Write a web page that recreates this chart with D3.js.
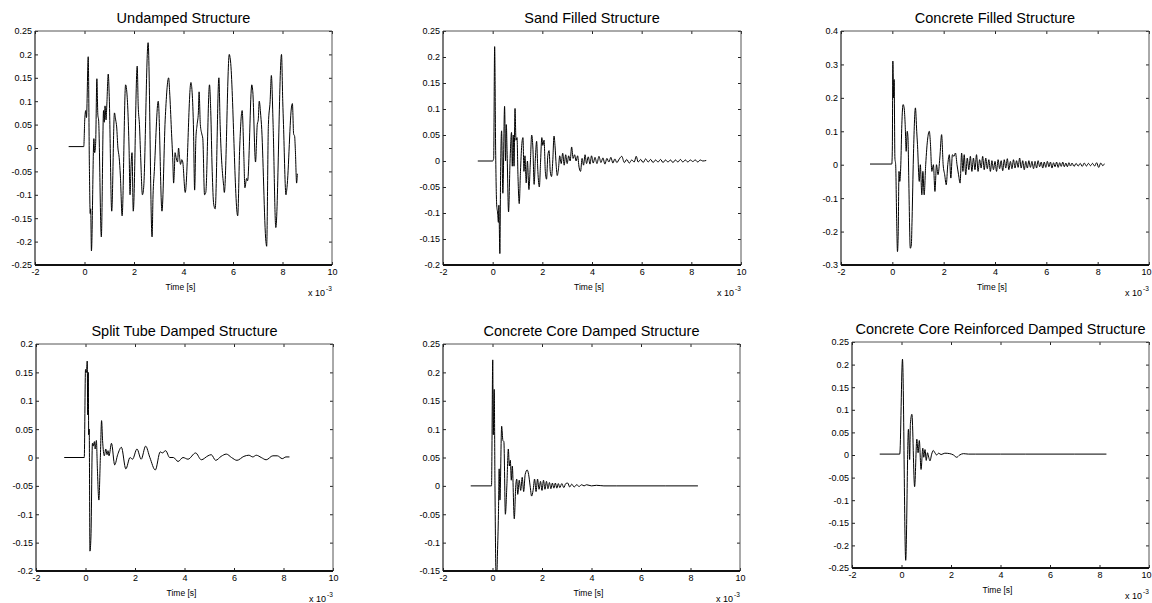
<!DOCTYPE html>
<html>
<head>
<meta charset="utf-8">
<script src="https://cdn.jsdelivr.net/npm/d3@7"></script>
<style>
  body { margin: 0; background: #fff; }
  svg { display: block; }
  text { font-family: "Liberation Sans", Arial, sans-serif; fill: #000; }
</style>
</head>
<body>
<svg id="chart" width="1152" height="603"></svg>
<script>
// time in ms (axis is labelled x 10^-3 s), value in whatever units the scope gave
var undamped = [
  [-0.64,0.003],[-0.03,0.003],[0.01,0.06],[0.05,0.08],[0.08,0.065],[0.15,0.195],[0.2,-0.05],[0.23,-0.14],
  [0.25,-0.13],[0.28,-0.22],[0.38,0.02],[0.41,-0.01],[0.45,0.01],[0.5,0.148],[0.54,0.07],[0.57,0.06],
  [0.68,-0.19],[0.77,0.08],[0.8,0.055],[0.83,0.09],[0.87,0.06],[0.9,0.09],[0.96,0.158],[1.0,0.11],
  [1.1,-0.135],[1.21,0.075],[1.26,0.06],[1.3,0.045],[1.35,0.0],[1.4,-0.02],[1.45,-0.06],[1.52,-0.145],
  [1.66,0.135],[1.7,0.125],[1.8,0.0],[1.84,-0.1],[1.88,-0.04],[1.92,-0.01],[1.97,-0.135],[2.13,0.175],
  [2.17,0.09],[2.22,0.05],[2.27,-0.02],[2.34,-0.1],[2.39,-0.085],[2.57,0.225],[2.73,-0.19],[2.77,-0.1],
  [2.82,-0.05],[2.98,0.1],[3.13,-0.135],[3.26,0.06],[3.4,0.15],[3.44,0.12],[3.51,0.04],[3.57,-0.03],
  [3.6,-0.075],[3.63,-0.05],[3.66,-0.01],[3.7,-0.02],[3.76,-0.03],[3.8,0.0],[3.84,-0.02],[3.88,-0.035],
  [3.93,-0.025],[3.97,-0.03],[4.07,-0.095],[4.3,0.14],[4.34,0.125],[4.4,0.05],[4.45,-0.09],[4.5,0.02],
  [4.55,0.05],[4.6,0.075],[4.63,0.12],[4.68,0.05],[4.74,0.03],[4.78,0.02],[4.85,-0.1],[4.9,-0.095],
  [5.05,0.135],[5.1,0.08],[5.16,-0.05],[5.22,-0.12],[5.28,-0.13],[5.43,0.15],[5.48,0.05],[5.62,-0.08],
  [5.65,-0.095],[5.85,0.2],[5.89,0.19],[6.19,-0.145],[6.27,0.0],[6.37,0.08],[6.44,-0.02],[6.48,-0.085],
  [6.55,-0.065],[6.59,-0.07],[6.76,0.135],[6.8,0.12],[6.91,-0.03],[6.98,0.05],[7.02,0.06],[7.06,0.1],
  [7.12,0.07],[7.15,0.05],[7.33,-0.2],[7.36,-0.21],[7.43,0.05],[7.5,0.1],[7.55,0.155],[7.62,0.05],
  [7.73,-0.17],[7.96,0.2],[8.01,0.1],[8.04,0.05],[8.14,-0.1],[8.18,-0.085],[8.37,0.09],[8.4,0.095],
  [8.45,0.03],[8.49,0.025],[8.52,-0.005],[8.57,-0.075],[8.6,-0.055]
];

var sandFilled = [
  [-0.6,0],[0.0,0],[0.04,0.005],[0.08,0.22],[0.12,0.02],[0.16,-0.083],[0.2,-0.1],[0.23,-0.118],
  [0.25,-0.085],[0.29,-0.178],[0.32,-0.02],[0.36,0.058],[0.41,-0.062],[0.48,0.105],[0.52,0.0],[0.55,0.07],
  [0.58,0.02],[0.64,-0.098],[0.7,0.0],[0.76,0.055],[0.79,-0.01],[0.83,0.05],[0.86,-0.01],[0.9,0.101],
  [0.94,0.04],[0.98,0.045],[1.02,-0.03],[1.07,-0.082],[1.12,-0.02],[1.17,0.03],[1.22,0.045],[1.26,-0.02],
  [1.3,0.01],[1.35,-0.042],[1.4,0.0],[1.46,-0.055],[1.52,0.0],[1.57,0.05],[1.62,0.025],[1.67,-0.045],
  [1.72,0.005],[1.77,0.038],[1.82,-0.02],[1.88,-0.05],[1.93,0.0],[1.98,0.045],[2.02,0.03],[2.07,0.04],
  [2.12,-0.02],[2.17,-0.035],[2.22,0.01],[2.27,0.02],[2.32,-0.02],[2.37,-0.03],[2.42,0.0],[2.47,0.048],
  [2.51,0.03],[2.56,-0.01],[2.6,-0.028],[2.65,-0.015],[2.7,0.01],[2.76,-0.005],[2.82,0.015],[2.88,-0.008],
  [2.94,0.012],[3.0,-0.005],[3.06,0.01],[3.12,0.0],[3.18,0.027],[3.24,0.005],[3.3,0.012],[3.36,0.0],
  [3.42,0.01],[3.48,-0.012],[3.54,-0.02],[3.6,0.005],[3.66,-0.008],[3.72,0.012],[3.78,-0.005],[3.85,0.008],
  [3.92,-0.006],[3.98,0.01],[4.05,-0.004],[4.12,0.007],[4.2,-0.005],[4.28,0.009],[4.36,-0.003],[4.44,0.006],
  [4.52,-0.006],[4.6,0.005],[4.68,-0.002],[4.76,0.007],[4.84,-0.004],[4.92,0.004],[5.0,-0.003],[5.1,0.004],
  [5.2,0.009],[5.3,-0.003],[5.4,0.003],[5.5,-0.004],[5.6,0.002],[5.7,-0.002],[5.78,0.009],[5.86,-0.002],
  [5.96,0.003],[6.06,-0.003],[6.16,0.004],[6.26,-0.002],[6.36,0.003],[6.46,-0.003],[6.56,0.002],[6.66,-0.002],
  [6.76,0.003],[6.86,-0.003],[6.96,0.002],[7.06,-0.002],[7.16,0.002],[7.26,-0.003],[7.36,0.002],[7.46,-0.002],
  [7.56,0.003],[7.66,-0.002],[7.76,0.002],[7.86,-0.002],[7.96,0.002],[8.06,-0.001],[8.16,0.002],[8.26,-0.002],
  [8.36,0.002],[8.46,0.0],[8.6,0.001]
];

var concreteFilled = [
  [-0.87,0.002],[-0.02,0.002],[0.0,0.05],[0.02,0.31],[0.05,0.2],[0.07,0.255],[0.1,0.02],[0.13,0.0],
  [0.17,-0.17],[0.2,-0.26],[0.23,-0.2],[0.26,-0.02],[0.29,-0.05],[0.33,0.0],[0.37,0.12],[0.42,0.18],
  [0.46,0.17],[0.5,0.12],[0.54,0.04],[0.58,0.1],[0.61,0.08],[0.64,-0.04],[0.7,-0.25],[0.74,-0.24],
  [0.77,-0.16],[0.82,0.02],[0.9,0.17],[0.95,0.1],[0.98,0.06],[1.05,-0.05],[1.09,0.0],[1.15,-0.09],
  [1.19,-0.02],[1.24,-0.09],[1.3,0.0],[1.38,0.08],[1.44,0.1],[1.48,0.07],[1.54,-0.02],[1.6,0.0],
  [1.66,-0.08],[1.72,0.0],[1.78,-0.03],[1.85,0.02],[1.92,0.09],[1.98,0.0],[2.04,-0.03],[2.1,-0.06],
  [2.16,0.0],[2.22,0.03],[2.28,-0.04],[2.34,0.03],[2.4,0.025],[2.46,0.035],[2.52,0.0],[2.58,-0.03],
  [2.64,-0.055],[2.7,0.035],[2.75,-0.02],[2.8,0.03],[2.86,-0.03],[2.92,0.02],[2.98,-0.015],[3.04,0.025],
  [3.1,-0.02],[3.16,0.02],[3.22,-0.015],[3.28,0.03],[3.34,-0.02],[3.4,0.015],[3.46,-0.01],[3.52,0.025],
  [3.58,-0.015],[3.64,0.02],[3.7,-0.012],[3.76,0.015],[3.82,-0.02],[3.88,0.012],[3.94,-0.015],[4.0,0.01],
  [4.06,-0.02],[4.12,0.015],[4.18,-0.012],[4.24,0.012],[4.3,-0.018],[4.36,0.015],[4.42,-0.01],[4.48,0.018],
  [4.54,-0.015],[4.6,0.01],[4.66,-0.012],[4.72,0.015],[4.78,-0.01],[4.84,0.012],[4.9,-0.008],[4.96,0.02],
  [5.02,-0.01],[5.08,0.012],[5.14,-0.015],[5.2,0.01],[5.26,-0.01],[5.32,0.012],[5.38,-0.008],[5.44,0.01],
  [5.5,-0.012],[5.56,0.01],[5.62,-0.01],[5.68,0.012],[5.74,-0.006],[5.8,0.008],[5.86,-0.01],[5.92,0.008],
  [5.98,-0.008],[6.04,0.01],[6.1,-0.006],[6.16,0.008],[6.22,-0.01],[6.28,0.006],[6.34,-0.006],[6.4,0.008],
  [6.46,-0.008],[6.52,0.006],[6.58,-0.005],[6.64,0.008],[6.7,-0.006],[6.76,0.005],[6.82,-0.006],[6.88,0.006],
  [6.94,-0.004],[7.0,0.005],[7.08,-0.005],[7.16,0.004],[7.24,-0.004],[7.32,0.004],[7.4,-0.005],[7.48,0.005],
  [7.56,-0.004],[7.64,0.004],[7.72,-0.003],[7.8,0.004],[7.88,-0.004],[7.96,0.006],[8.04,-0.008],[8.12,0.005],
  [8.2,-0.003],[8.26,0.003]
];

var splitTube = [
  [-0.86,0],[-0.05,0],[0.0,0.155],[0.04,0.15],[0.07,0.17],[0.09,0.075],[0.11,0.15],[0.13,0.04],
  [0.15,0.05],[0.18,-0.165],[0.22,-0.14],[0.28,0.025],[0.31,0.02],[0.36,0.028],[0.39,0.015],[0.44,0.03],
  [0.48,-0.02],[0.54,-0.075],[0.6,0.0],[0.65,0.065],[0.69,0.03],[0.76,0.003],[0.82,0.015],[0.87,0.005],
  [0.91,0.012],[0.95,0.003],[1.05,0.025],[1.18,-0.013],[1.3,0.005],[1.45,0.018],[1.63,-0.02],[1.8,0.0],
  [1.9,-0.003],[2.08,0.015],[2.25,-0.003],[2.43,0.02],[2.6,0.0],[2.82,-0.022],[3.02,0.01],[3.1,0.008],
  [3.24,0.012],[3.4,0.0],[3.55,0.0],[3.74,-0.007],[3.94,0.0],[4.14,-0.003],[4.45,0.008],[4.68,-0.004],
  [4.95,0.003],[5.08,0.005],[5.26,-0.005],[5.48,0.002],[5.69,0.006],[5.9,0.0],[6.12,-0.005],[6.4,0.002],
  [6.6,0.004],[6.76,0.001],[6.9,0.004],[7.1,0.0],[7.3,-0.004],[7.57,0.003],[7.75,0.003],[7.95,-0.002],
  [8.1,0.001],[8.24,0.001]
];

var concreteCore = [
  [-0.88,0],[-0.04,0],[0.01,0.222],[0.03,0.09],[0.07,0.17],[0.1,0.0],[0.14,-0.15],[0.18,-0.15],
  [0.2,-0.12],[0.24,-0.05],[0.27,0.03],[0.3,-0.025],[0.37,0.105],[0.42,0.08],[0.46,0.078],[0.52,-0.05],
  [0.58,0.0],[0.64,0.065],[0.68,0.035],[0.72,0.045],[0.76,0.01],[0.8,0.035],[0.88,-0.058],[0.94,0.0],
  [0.98,0.012],[1.02,-0.015],[1.08,0.01],[1.14,-0.008],[1.2,0.015],[1.26,-0.01],[1.32,0.02],[1.4,0.028],
  [1.46,0.02],[1.52,0.0],[1.58,-0.018],[1.64,-0.008],[1.7,0.012],[1.76,-0.01],[1.82,0.012],[1.88,-0.006],
  [1.94,0.008],[2.0,-0.008],[2.06,0.01],[2.12,-0.006],[2.18,0.008],[2.24,-0.005],[2.3,0.006],[2.36,-0.005],
  [2.42,0.005],[2.48,-0.004],[2.54,0.005],[2.6,-0.004],[2.66,0.004],[2.72,-0.003],[2.8,0.004],[2.88,-0.003],
  [2.96,0.004],[3.04,0.005],[3.12,-0.002],[3.2,0.003],[3.3,-0.002],[3.4,0.002],[3.5,-0.001],[3.6,0.002],
  [3.7,0.0],[3.8,0.002],[4.0,0.0],[4.2,0.001],[4.5,0.0],[5.0,0.0],[6.0,0.0],[7.0,0.0],[8.3,0.0]
];

var coreReinforced = [
  [-0.88,0.002],[-0.07,0.002],[0.04,0.212],[0.17,-0.233],[0.28,0.057],[0.31,0.02],[0.33,-0.01],[0.36,0.07],
  [0.42,0.09],[0.53,-0.07],[0.62,0.035],[0.67,0.005],[0.72,0.032],[0.79,-0.032],[0.86,0.015],[0.9,-0.005],
  [0.95,0.012],[1.0,-0.012],[1.05,0.005],[1.1,-0.005],[1.15,-0.013],[1.22,0.002],[1.28,0.01],[1.35,0.005],
  [1.42,0.0],[1.5,0.004],[1.6,0.001],[1.75,0.004],[1.95,0.003],[2.1,0.0],[2.23,-0.005],[2.35,0.0],
  [2.5,0.003],[2.7,0.002],[3.0,0.002],[4.0,0.002],[5.0,0.002],[6.0,0.002],[7.0,0.002],[8.28,0.002]
];

var titles = ["Undamped Structure", "Sand Filled Structure", "Concrete Filled Structure",
              "Split Tube Damped Structure", "Concrete Core Damped Structure",
              "Concrete Core Reinforced Damped Structure"];
var series = [undamped, sandFilled, concreteFilled, splitTube, concreteCore, coreReinforced];
var yDomains = [[-0.25,0.25],[-0.2,0.25],[-0.3,0.4],[-0.2,0.2],[-0.15,0.25],[-0.25,0.25]];
var yStep = [0.05, 0.05, 0.1, 0.05, 0.05, 0.05];
var xTicks = [-2, 0, 2, 4, 6, 8, 10];

// axes boxes [left, right, top, bottom] in px
var boxes = [
  [35, 332, 31, 265], [443, 741, 31, 265], [841, 1149, 31, 265],
  [36, 333, 344, 571], [443, 740, 344, 571], [852, 1149, 342, 568]
];

var svg = d3.select("#chart");
svg.append("rect").attr("width", 1152).attr("height", 603).attr("fill", "#fff");

// plain hyphen minus like the original, not d3's unicode minus
var fmtY = function(d) { return String(parseFloat(d.toFixed(2))); };
var fmtX = function(d) { return String(d); };

series.forEach(function(data, i) {
  var b = boxes[i];
  var x = d3.scaleLinear().domain([-2, 10]).range([b[0], b[1]]);
  var y = d3.scaleLinear().domain(yDomains[i]).range([b[3], b[2]]);
  var yt = d3.range(yDomains[i][0], yDomains[i][1] + yStep[i] / 2, yStep[i]);
  var g = svg.append("g");

  var clipId = "clip" + i;
  g.append("clipPath").attr("id", clipId)
    .append("rect").attr("x", b[0]).attr("y", b[2])
    .attr("width", b[1] - b[0]).attr("height", b[3] - b[2]);

  // inward ticks on all four sides, labels only bottom/left
  var gb = g.append("g").attr("transform", "translate(0," + b[3] + ")")
    .call(d3.axisBottom(x).tickValues(xTicks).tickSize(-3).tickPadding(4).tickFormat(fmtX));
  var gl = g.append("g").attr("transform", "translate(" + b[0] + ",0)")
    .call(d3.axisLeft(y).tickValues(yt).tickSize(-3).tickPadding(3).tickFormat(fmtY));
  g.append("g").attr("transform", "translate(0," + b[2] + ")")
    .call(d3.axisTop(x).tickValues(xTicks).tickSize(-3).tickFormat(""));
  g.append("g").attr("transform", "translate(" + b[1] + ",0)")
    .call(d3.axisRight(y).tickValues(yt).tickSize(-3).tickFormat(""));
  g.selectAll(".domain").remove();
  g.selectAll(".tick line").attr("stroke", "#222");
  g.selectAll(".tick text").attr("font-family", "Liberation Sans, Arial, sans-serif")
    .attr("font-size", 9).attr("fill", "#000");

  // the last x label runs into the page edge on the right column
  if (b[1] > 1140) {
    gb.selectAll(".tick text").filter(function(d) { return d === 10; })
      .attr("text-anchor", "end").attr("x", 1151 - b[1]);
  }

  // frame
  g.append("line").attr("x1", b[0]).attr("x2", b[1]).attr("y1", b[2]).attr("y2", b[2])
    .attr("stroke", "#555").attr("stroke-width", 1);
  g.append("line").attr("x1", b[1]).attr("x2", b[1]).attr("y1", b[2]).attr("y2", b[3])
    .attr("stroke", "#555").attr("stroke-width", 1);
  g.append("line").attr("x1", b[0]).attr("x2", b[0]).attr("y1", b[2]).attr("y2", b[3])
    .attr("stroke", "#222").attr("stroke-width", 1.2);
  g.append("line").attr("x1", b[0]).attr("x2", b[1]).attr("y1", b[3]).attr("y2", b[3])
    .attr("stroke", "#111").attr("stroke-width", 2);

  var line = d3.line().curve(d3.curveMonotoneX)
    .x(function(d) { return x(d[0]); }).y(function(d) { return y(d[1]); });
  g.append("path").datum(data)
    .attr("clip-path", "url(#" + clipId + ")")
    .attr("d", line).attr("fill", "none")
    .attr("stroke", "#000").attr("stroke-width", 1).attr("stroke-linejoin", "round");

  var cx = (b[0] + b[1]) / 2;
  g.append("text").attr("x", cx).attr("y", b[2] - 8)
    .attr("text-anchor", "middle").attr("font-size", 14.5).text(titles[i]);
  g.append("text").attr("x", cx - 3).attr("y", b[3] + 25)
    .attr("text-anchor", "middle").attr("font-size", 8.5).text("Time [s]");
  g.append("text").attr("x", b[1] - 7).attr("y", b[3] + 31)
    .attr("text-anchor", "end").attr("font-size", 9).text("x 10");
  g.append("text").attr("x", b[1] - 6).attr("y", b[3] + 26)
    .attr("font-size", 6.5).text("-3");
});
</script>
</body>
</html>
